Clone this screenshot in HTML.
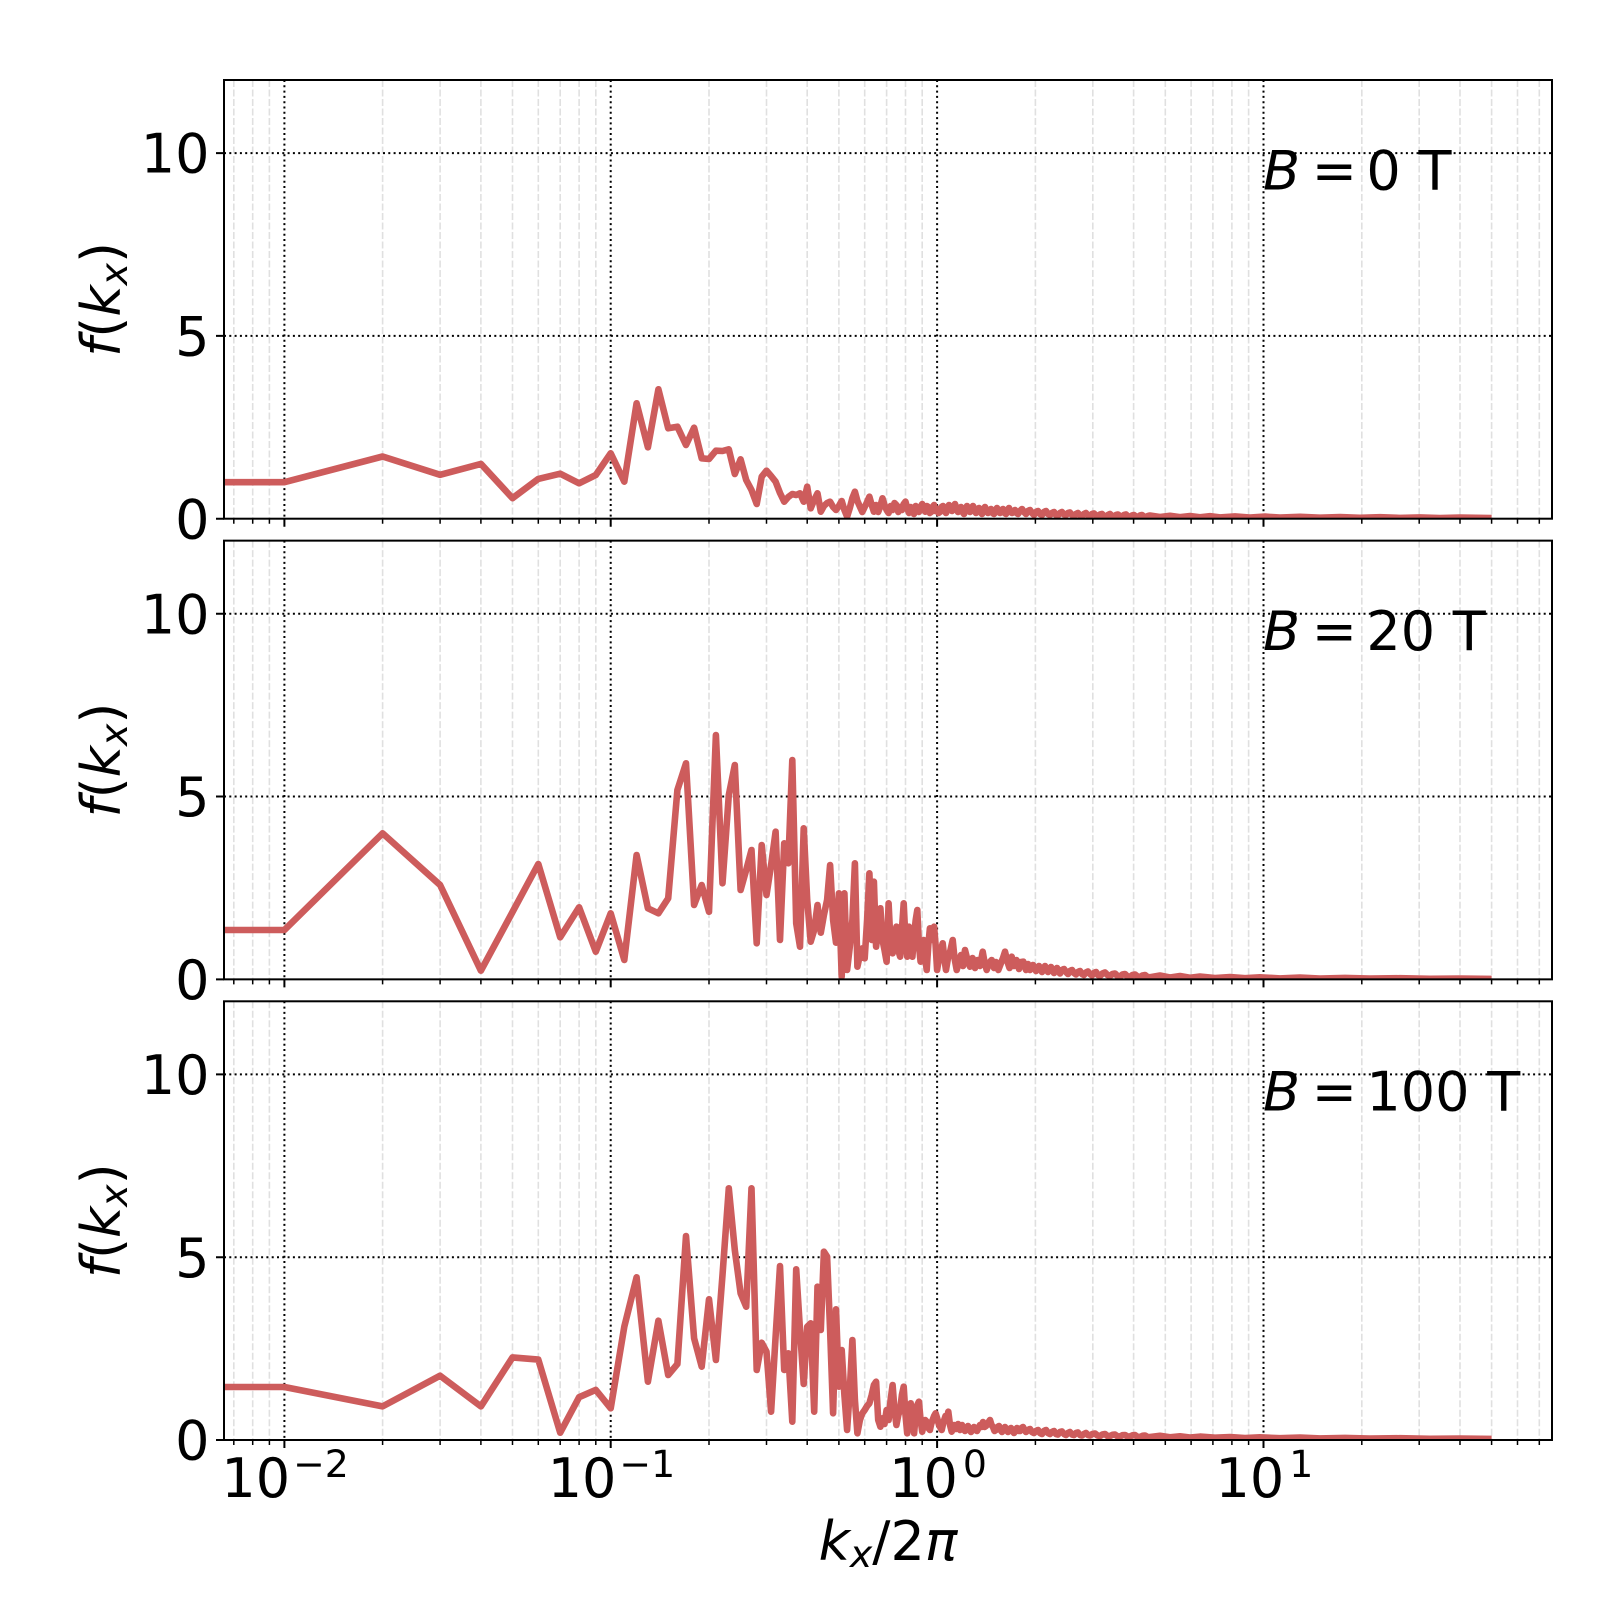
<!DOCTYPE html>
<html><head><meta charset="utf-8"><style>
html,body{margin:0;padding:0;background:#fff;}
svg{display:block;}
text{font-family:"DejaVu Sans","Liberation Sans",sans-serif;fill:#000;}
</style></head><body>
<svg width="1600" height="1600" viewBox="0 0 1600 1600" xmlns="http://www.w3.org/2000/svg" xmlns:xlink="http://www.w3.org/1999/xlink">
<defs>
<clipPath id="c1"><rect x="224" y="80" width="1328" height="438.7"/></clipPath>
<clipPath id="c2"><rect x="224" y="540.65" width="1328" height="438.75"/></clipPath>
<clipPath id="c3"><rect x="224" y="1001.3" width="1328" height="438.7"/></clipPath>
<g id="grid">
<path d="M233.8 80V518.7M252.7 80V518.7M269.4 80V518.7M382.6 80V518.7M440.1 80V518.7M480.9 80V518.7M512.5 80V518.7M538.3 80V518.7M560.2 80V518.7M579.1 80V518.7M595.8 80V518.7M709 80V518.7M766.5 80V518.7M807.2 80V518.7M838.9 80V518.7M864.7 80V518.7M886.6 80V518.7M905.5 80V518.7M922.2 80V518.7M1035.4 80V518.7M1092.8 80V518.7M1133.6 80V518.7M1165.3 80V518.7M1191.1 80V518.7M1212.9 80V518.7M1231.9 80V518.7M1248.6 80V518.7M1361.8 80V518.7M1419.2 80V518.7M1460 80V518.7M1491.6 80V518.7M1517.5 80V518.7M1539.3 80V518.7" stroke="#e0e0e0" stroke-width="1.6" stroke-dasharray="7 2.5" fill="none"/>
<path d="M284.4 80V518.7M610.7 80V518.7M937.1 80V518.7M1263.5 80V518.7M224 335.9H1552M224 153.1H1552" stroke="#000" stroke-width="2" stroke-dasharray="2 3.3" fill="none"/>
</g>
<g id="frame">
<path d="M284.4 518.7v8M610.7 518.7v8M937.1 518.7v8M1263.5 518.7v8M224 518.7h-8M224 335.9h-8M224 153.1h-8" stroke="#000" stroke-width="2" fill="none"/>
<path d="M233.8 518.7v5M252.7 518.7v5M269.4 518.7v5M382.6 518.7v5M440.1 518.7v5M480.9 518.7v5M512.5 518.7v5M538.3 518.7v5M560.2 518.7v5M579.1 518.7v5M595.8 518.7v5M709 518.7v5M766.5 518.7v5M807.2 518.7v5M838.9 518.7v5M864.7 518.7v5M886.6 518.7v5M905.5 518.7v5M922.2 518.7v5M1035.4 518.7v5M1092.8 518.7v5M1133.6 518.7v5M1165.3 518.7v5M1191.1 518.7v5M1212.9 518.7v5M1231.9 518.7v5M1248.6 518.7v5M1361.8 518.7v5M1419.2 518.7v5M1460 518.7v5M1491.6 518.7v5M1517.5 518.7v5M1539.3 518.7v5" stroke="#000" stroke-width="1.5" fill="none"/>
<rect x="224" y="80" width="1328" height="438.7" fill="none" stroke="#000" stroke-width="2"/>
<text x="209.5" y="538.3" font-size="54" text-anchor="end">0</text>
<text x="209.5" y="355.5" font-size="54" text-anchor="end">5</text>
<text x="209.5" y="172.7" font-size="54" text-anchor="end">10</text>
</g>
</defs>

<use href="#grid" xlink:href="#grid"/>
<use href="#grid" xlink:href="#grid" transform="translate(0,460.65)"/>
<use href="#grid" xlink:href="#grid" transform="translate(0,921.3)"/>

<g fill="none" stroke="#CD5C5C" stroke-width="6.6" stroke-linejoin="round" stroke-linecap="butt">
<polyline clip-path="url(#c1)" points="224,482.2 284.4,482.2 382.6,456.5 440.1,474.8 480.9,463.9 512.5,498.2 538.3,478.9 560.2,473.7 579.1,483.3 595.8,475 610.7,453.3 624.3,481.7 636.6,403.3 647.9,447.3 658.4,389.3 668.2,428.3 677.4,426.7 686,445 694.1,427.7 701.7,458.3 709,459 715.9,450.7 722.5,451 728.8,449.3 734.8,474 740.6,459.3 746.2,480 751.5,490 756.7,504 761.7,476.7 766.5,470.7 771.1,476 775.6,481.7 780,493 784.2,501.7 788.3,497 792.3,494 796.2,495 800,493.3 803.7,501.7 807.2,486.7 810.7,508.3 814.2,500 817.5,493.3 820.8,511.7 823.9,506 827.1,503 830.1,501.7 833.1,507 836,510 838.9,506 841.7,501 844.4,510 847.1,516.7 849.8,508 852.4,498 854.9,491.7 857.4,501 859.9,506.7 862.3,512 864.7,507 867.1,502 869.4,496.7 871.7,505 873.9,511.7 876.1,505 878.2,512 880.4,506 882.5,498.3 884.5,505 886.6,510 888.6,513 890.6,506 892.6,510 894.5,503 896.4,505 898.3,512 900.1,507 901.9,510 903.7,504 905.5,501.7 907.2,508 909,513 910.7,507 912.4,510 914,514 915.7,506 917.3,509 918.9,512 920.5,507 922.2,504 923.7,509 925.2,511.7 926.8,506 928.3,507 929.8,513 931.2,512 932.7,507 934.1,505 935.6,511 937.1,509 938.5,513 940,512 941.5,507 943,506 944.5,511 946,513 947.5,508 949,505 950.5,510 952,511 953.5,507 955,504 956.5,509 958,512 959.5,508 961,507 962.5,512 964,514 965.5,509 967,506 968.5,511 970,512 971.5,508 973,506 974.5,511 976,513 977.5,509 979,508 980.5,512 982,514 983.5,509 985,507 986.5,511 988,513 989.5,510 991,509 992.5,513 994,514 995.5,510 997,508 998.5,512 1000,513 1001.5,510 1003,509 1004.5,513 1006,514 1007.5,510 1009,508 1010.5,512 1012,513 1013.5,511 1015,510 1016.5,513 1018,514 1020,511 1022,509 1024,512 1026,514 1028,511 1030,510 1032,513 1034,515 1036,512 1038,511 1040,514 1042,515 1044,512 1046,511 1048,514 1050,515 1052,513 1054,512 1056,515 1058,515.5 1060,513 1062,512 1064,514.5 1066,515 1068,513 1070,512.5 1072,515 1074,516 1076,514 1078,513 1080,515.5 1082,516 1084,514 1086,513 1088,515.5 1090,516 1092,514 1094,513.5 1096,515.5 1098,516 1100,514.5 1102,514 1104,516 1106,516.5 1108,515 1110,514 1112,516 1114,516.5 1116,515 1118,514.5 1120,516 1122,516.5 1124,515 1126,514.5 1128,516.5 1130,517 1132,515.5 1134,515 1136,516.5 1138,517 1140,515.5 1142,515 1144,516.5 1146,517 1148,516 1150,515.5 1160,517 1170,515.8 1180,517.2 1190,516 1200,517.3 1210,516.2 1220,517.4 1235,516.4 1250,517.5 1265,516.6 1280,517.6 1300,516.8 1320,517.7 1340,517 1360,517.8 1380,517.2 1400,517.9 1420,517.4 1440,518 1460,517.6 1491.6,518"/>
<polyline clip-path="url(#c2)" points="224,930 284.4,930 382.6,833.3 440.1,885 480.9,970.7 512.5,912 538.3,864 560.2,937.3 579.1,907.3 595.8,951.7 610.7,913.3 624.3,960 636.6,855 647.9,908.3 658.4,913.3 668.2,898.3 677.4,790 686,763.3 694.1,905 701.7,885 709,911.7 715.9,735 722.5,883.3 728.8,795 734.8,765 740.6,890 746.2,870 751.5,850 756.7,943.3 761.7,845 766.5,895 771.1,865 775.6,831.7 780,940 784.2,843.3 788.3,863.3 792.3,760 796.2,923.3 800,946.7 803.7,828.3 807.2,900 810.7,941.7 814.2,930 817.5,905 820.8,932.7 823.9,915 827.1,900 830.1,865 833.1,920 836,942.7 838.9,893.3 841.7,976.7 844.4,893.3 847.1,970 849.8,946.7 852.4,920 854.9,863.3 857.4,966.7 859.9,955 862.3,948.3 864.7,958.3 867.1,920 869.4,873.3 871.7,940 873.9,881.7 876.1,946.7 878.2,930 880.4,908.3 882.5,940 884.5,950 886.6,961.7 888.6,903.3 890.6,945 892.6,953.3 894.5,940 896.4,926.7 898.3,950 900.1,956.7 901.9,930 903.7,903.3 905.5,940 907.2,956.7 909,926.7 910.7,945 912.4,956.7 914.1,935 915.7,920 917.3,910 918.9,945 920.6,961.7 922.2,950 923.7,940 925.2,958 926.7,970 928.3,945 929.9,928.3 931.2,940 932.6,935 934.1,926.7 935.6,945 937.1,970 939.5,955 942.7,943.3 944.5,960 946,970 948,958 950.5,950 952.7,940 954.5,958 956.7,970 959,962 961,955 963,966 965,950 967.5,960 970,966.7 972.5,958 975,968 977.5,960 980,966 982.7,951.7 984.5,962 986.7,970 989,963 991.7,960 994,968 996,962 998.3,970 1001,963 1003,958 1005,951.7 1007.5,962 1009.5,968 1011.7,956.7 1014,966 1016.5,960 1019,969 1021,962 1023.3,961.7 1026,970 1028,964 1030,970 1033,965 1036,971 1039,966 1042,972 1045,966 1048,972 1051,967 1054,973 1057,968 1060,973.5 1062,970 1064,969 1066,972 1068,974 1070,971 1072,970 1074,973 1076,974.5 1078,972 1080,971 1082,974 1084,975 1086,972.5 1088,971.5 1090,974 1092,975.5 1094,973 1096,972 1098,975 1100,976 1102.5,973.5 1105,972.5 1107.5,975 1110,976 1112.5,974 1115,973.5 1117.5,976 1120,976.5 1122.5,974.5 1125,974 1127.5,976.5 1130,977 1132.5,975 1135,974.5 1137.5,976.5 1140,977 1142.5,975.5 1145,975 1147.5,977 1150,977.3 1160,975.5 1170,977.5 1180,976 1190,977.8 1200,976.5 1215,978 1230,977 1245,978.2 1260,977.3 1280,978.4 1300,977.6 1320,978.5 1345,977.9 1370,978.6 1400,978.2 1430,978.8 1460,978.5 1491.6,978.9"/>
<polyline clip-path="url(#c3)" points="224,1387 284.4,1387 382.6,1406.4 440.1,1375.7 480.9,1406.4 512.5,1357.4 538.3,1359.6 560.2,1432.7 579.1,1397.2 595.8,1389.9 610.7,1408.3 624.3,1326.7 636.6,1277.3 647.9,1381.7 658.4,1320.7 668.2,1375 677.4,1364 686,1236 694.1,1338.3 701.7,1366.7 709,1299.3 715.9,1360 722.5,1275 728.8,1188.3 734.8,1250 740.6,1293.3 746.2,1306.7 751.5,1188.3 756.7,1370 761.7,1342.7 766.5,1351.7 771.1,1411.7 775.6,1336.7 780,1266 784.2,1370 788.3,1353.3 792.3,1421.7 796.2,1269.3 800,1330 803.7,1384 807.2,1326.7 810.7,1323.3 814.2,1411.7 817.5,1286.7 820.8,1330 823.9,1251.7 827.1,1256.7 830.1,1330 833.1,1413.3 836,1309.3 838.9,1386.7 841.7,1350 844.4,1395 847.1,1430 849.8,1390 852.4,1340 854.9,1400 857.4,1433.3 859.9,1420 862.3,1413.3 864.7,1410 867.1,1406 869.4,1403.3 871.7,1395 873.9,1385 876.1,1381.7 878.2,1420 880.4,1426.7 882.5,1418.3 884.5,1424 886.6,1410 888.6,1420 890.6,1400 892.6,1385 894.5,1410 896.4,1425 898.3,1415 900.1,1410 901.9,1395 903.7,1386.7 905.5,1415 907.2,1433.3 909,1415 910.7,1403.3 912.4,1420 914.1,1433.3 915.7,1415 917.3,1405 918.9,1401.7 920.6,1420 922.2,1431.7 923.7,1425 925.2,1420 926.7,1421.7 928.3,1428 929.9,1430 931.2,1424 932.6,1420 934.1,1416 935.6,1413.3 937.1,1418 939,1425 941.7,1430 943.5,1422 945.5,1416 947,1418 948.3,1411.7 950,1425 951.7,1431.7 954,1425 956,1429 958,1424 960,1430 962,1425 963.5,1429 965,1431 966.5,1428 968,1426 969.5,1430 971,1432 972.5,1429 974,1427 975.5,1430 977,1431 978.5,1428 980,1425 981.5,1427 983,1422 984.5,1427 986,1426 988,1423 990,1420 991.5,1425 993,1427 994.5,1431 996,1430 997.5,1427 999,1426 1000.5,1430 1002,1432 1003.5,1429 1005,1427 1006.5,1430 1008,1432 1009.5,1429 1011,1428 1012.5,1431 1014,1433 1015.5,1430 1017,1428 1018.5,1431 1020,1431 1021.5,1428 1023,1427 1024.5,1430 1026,1432 1028,1430 1030,1429 1032,1432 1034,1433 1036,1431 1038,1430 1040,1433 1042,1434 1044,1431 1046,1430 1048,1433 1050,1434 1052,1432 1054,1431 1056,1434 1058,1434.5 1060,1432 1062,1431.5 1064,1434 1066,1435 1068,1433 1070,1432 1072,1434.5 1074,1435 1076,1433 1078,1432.5 1080,1435 1082,1435.5 1084,1434 1086,1433 1088,1435 1090,1435.5 1092.5,1434 1095,1433.5 1097.5,1435.5 1100,1436 1102.5,1434.5 1105,1434 1107.5,1436 1110,1436 1112.5,1434.8 1115,1434.5 1117.5,1436.3 1120,1436.5 1122.5,1435.2 1125,1435 1127.5,1436.5 1130,1436.5 1132.5,1435.3 1135,1435 1137.5,1436.8 1140,1437 1142.5,1435.8 1145,1435.5 1147.5,1437 1150,1437 1160,1435.8 1170,1437.3 1180,1436.3 1190,1437.5 1200,1436.6 1215,1437.7 1230,1437 1245,1438 1260,1437.3 1280,1438.2 1300,1437.6 1320,1438.4 1345,1437.9 1370,1438.6 1400,1438.2 1430,1438.8 1460,1438.5 1491.6,1438.9"/>
</g>

<use href="#frame" xlink:href="#frame"/>
<use href="#frame" xlink:href="#frame" transform="translate(0,460.65)"/>
<use href="#frame" xlink:href="#frame" transform="translate(0,921.3)"/>

<text y="189.3" font-size="54"><tspan x="1263" font-style="italic">B</tspan><tspan x="1311.7">=</tspan><tspan x="1366.4">0</tspan><tspan x="1418.5">T</tspan></text>
<text y="650" font-size="54"><tspan x="1263" font-style="italic">B</tspan><tspan x="1311.7">=</tspan><tspan x="1366.4">20</tspan><tspan x="1452.8">T</tspan></text>
<text y="1110.6" font-size="54"><tspan x="1263" font-style="italic">B</tspan><tspan x="1311.7">=</tspan><tspan x="1366.4">100</tspan><tspan x="1487.2">T</tspan></text>

<text transform="translate(120,299.35) rotate(-90)" text-anchor="middle" font-size="54"><tspan font-style="italic">f</tspan>(<tspan font-style="italic">k</tspan><tspan font-style="italic" font-size="37.8" dy="7">x</tspan><tspan dy="-7">)</tspan></text>
<text transform="translate(120,760) rotate(-90)" text-anchor="middle" font-size="54"><tspan font-style="italic">f</tspan>(<tspan font-style="italic">k</tspan><tspan font-style="italic" font-size="37.8" dy="7">x</tspan><tspan dy="-7">)</tspan></text>
<text transform="translate(120,1220.65) rotate(-90)" text-anchor="middle" font-size="54"><tspan font-style="italic">f</tspan>(<tspan font-style="italic">k</tspan><tspan font-style="italic" font-size="37.8" dy="7">x</tspan><tspan dy="-7">)</tspan></text>

<text x="221.4" y="1497" font-size="54">10<tspan dx="3" dy="-20" font-size="37.8">−2</tspan></text>
<text x="547.7" y="1497" font-size="54">10<tspan dx="3" dy="-20" font-size="37.8">−1</tspan></text>
<text x="889.1" y="1497" font-size="54">10<tspan dx="5" dy="-20" font-size="37.8">0</tspan></text>
<text x="1215.5" y="1497" font-size="54">10<tspan dx="5" dy="-20" font-size="37.8">1</tspan></text>

<text x="888" y="1560" text-anchor="middle" font-size="54"><tspan font-style="italic">k</tspan><tspan font-style="italic" font-size="37.8" dy="7">x</tspan><tspan dy="-7">/2</tspan><tspan font-style="italic">π</tspan></text>
</svg>
</body></html>
